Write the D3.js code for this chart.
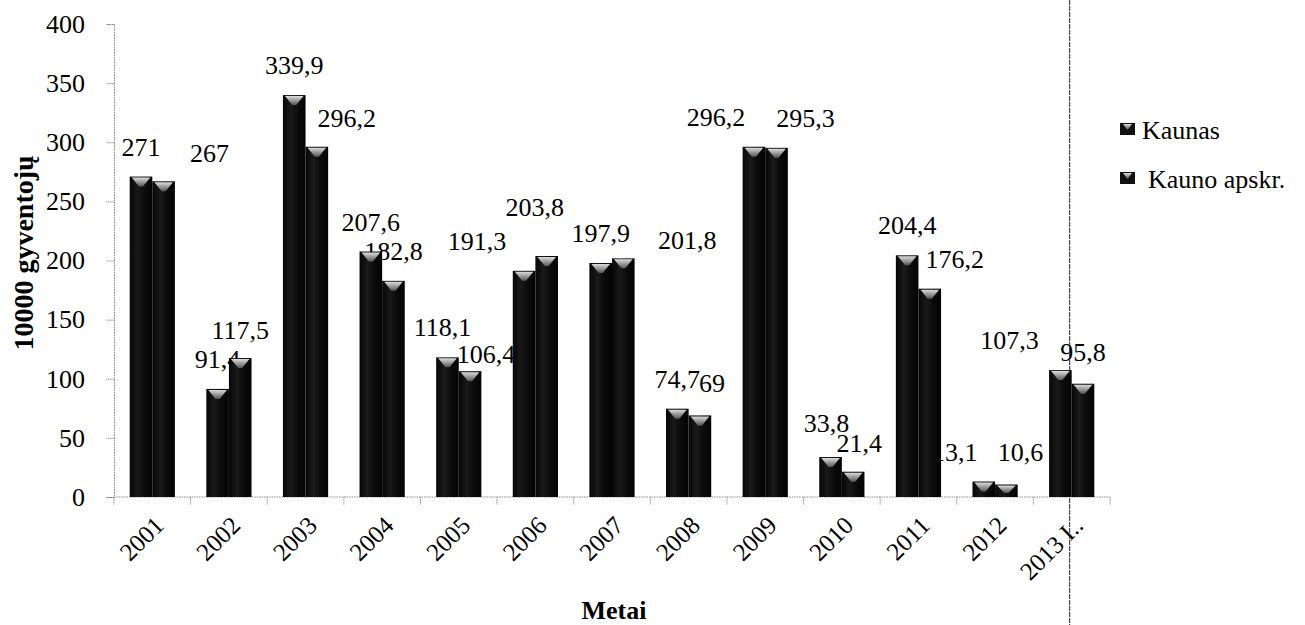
<!DOCTYPE html>
<html>
<head>
<meta charset="utf-8">
<script src="https://cdn.jsdelivr.net/npm/d3@7"></script>
<style>
  html, body { margin: 0; padding: 0; background: #fff; }
  svg { display: block; }
  svg text { font-family: "Liberation Serif", "DejaVu Serif", serif !important; fill: #000; }
</style>
</head>
<body>
<svg id="chart" width="1305" height="625"></svg>
<script>
// ---- data ----
const years = ["2001", "2002", "2003", "2004", "2005", "2006", "2007", "2008", "2009", "2010", "2011", "2012", "2013 I.."];
const seriesNames = ["Kaunas", "Kauno apskr."];
const kaunas = [271, 91.4, 339.9, 207.6, 118.1, 191.3, 197.9, 74.7, 296.2, 33.8, 204.4, 13.1, 107.3];
const kaunoApskr = [267, 117.5, 296.2, 182.8, 106.4, 203.8, 201.8, 69, 295.3, 21.4, 176.2, 10.6, 95.8];
const yTicks = [0, 50, 100, 150, 200, 250, 300, 350, 400];
const yTitle = "10000 gyventojų";
const xTitle = "Metai";

// ---- layout (label nudges reproduce manually moved labels) ----
const nudgeX = [
  [0, 0, 0, 0, -5, -47, 0, 0, -38, -4, 0, -29, -51],
  [46, 0, 30, 0, 16, -12, 64, 12, 29, 6, 25, 14, 0]
];
const nudgeY = [
  [0, 0, 0, 0, 0, 0, 0, 0, 0, -4, 0, 0, 0],
  [2, 2, 1, 0, 13, -19, 12, -2, 0, 1, 0, -2, -2]
];

const svg = d3.select("#chart");
const plotLeft = 114, plotRight = 1110, plotTop = 24, plotBottom = 497;

const x0 = d3.scaleBand().domain(years).range([plotLeft, plotRight]).paddingInner(0.41).paddingOuter(0.205);
const x1 = d3.scaleBand().domain(seriesNames).range([0, x0.bandwidth()]).padding(0);
const y = d3.scaleLinear().domain([0, 400]).range([plotBottom, plotTop]);

const fmt = v => String(v).replace(".", ",");
const FONT = "Liberation Serif, DejaVu Serif, serif";

const defs = svg.append("defs");
const barGrad = defs.append("linearGradient").attr("id", "barGrad").attr("x1", 0).attr("x2", 1).attr("y1", 0).attr("y2", 0);
barGrad.append("stop").attr("offset", "0%").attr("stop-color", "#060606");
barGrad.append("stop").attr("offset", "35%").attr("stop-color", "#1a1a1a");
barGrad.append("stop").attr("offset", "65%").attr("stop-color", "#0b0b0b");
barGrad.append("stop").attr("offset", "100%").attr("stop-color", "#040404");
const capGrad = defs.append("linearGradient").attr("id", "capGrad").attr("x1", 0).attr("x2", 0).attr("y1", 0).attr("y2", 1);
capGrad.append("stop").attr("offset", "0%").attr("stop-color", "#dcdcdc");
capGrad.append("stop").attr("offset", "100%").attr("stop-color", "#555");

// ---- axes ----
const yAxis = d3.axisLeft(y).tickValues(yTicks).tickSize(8).tickPadding(21).tickFormat(d => d);
const gy = svg.append("g").attr("transform", `translate(${plotLeft},0)`).call(yAxis).attr("font-family", FONT);
gy.select(".domain").attr("stroke", "#8a8a8a").attr("stroke-dasharray", "1.5,1");
gy.selectAll(".tick line").attr("stroke", "#8a8a8a").attr("stroke-dasharray", "1.5,1");
gy.selectAll(".tick text").attr("font-size", 26).attr("fill", "#000");

// x axis baseline and boundary ticks
svg.append("line").attr("x1", plotLeft).attr("x2", plotRight).attr("y1", plotBottom).attr("y2", plotBottom)
  .attr("stroke", "#8a8a8a").attr("stroke-dasharray", "1.5,1");
svg.append("g").selectAll("line").data(d3.range(years.length + 1)).join("line")
  .attr("x1", i => plotLeft + i * x0.step()).attr("x2", i => plotLeft + i * x0.step())
  .attr("y1", plotBottom).attr("y2", plotBottom + 8)
  .attr("stroke", "#8a8a8a").attr("stroke-dasharray", "1.5,1");

const xAxis = d3.axisBottom(x0).tickSize(0).tickPadding(0);
const gx = svg.append("g").attr("transform", `translate(0,${plotBottom})`).call(xAxis).attr("font-family", FONT);
gx.select(".domain").remove();
gx.selectAll(".tick text")
  .attr("x", 0).attr("y", 0).attr("dy", 0)
  .attr("text-anchor", "end")
  .attr("transform", "translate(13,30) rotate(-45)")
  .attr("font-size", 25).attr("fill", "#000");

// axis titles
svg.append("text").attr("transform", "translate(33,253) rotate(-90)")
  .attr("text-anchor", "middle").attr("font-size", 28).attr("font-weight", "bold").text(yTitle);
svg.append("text").attr("x", 614).attr("y", 619)
  .attr("text-anchor", "middle").attr("font-size", 26).attr("font-weight", "bold").text(xTitle);

// ---- data labels (drawn beneath bars, as in the original) ----
const series = [kaunas, kaunoApskr];
const labelData = [];
series.forEach((vals, s) => vals.forEach((v, i) => labelData.push({ s, i, v })));
svg.append("g").selectAll("text").data(labelData).join("text")
  .attr("x", d => x0(years[d.i]) + x1(seriesNames[d.s]) + x1.bandwidth() / 2 + nudgeX[d.s][d.i])
  .attr("y", d => y(d.v) - 21 + nudgeY[d.s][d.i])
  .attr("text-anchor", "middle").attr("font-size", 26)
  .text(d => fmt(d.v));

// vertical dashed separator line through last category
const sepX = x0(years[years.length - 1]) + x0.bandwidth() / 2 - 2;
svg.append("line").attr("x1", sepX).attr("x2", sepX).attr("y1", 0).attr("y2", 625)
  .attr("stroke", "#222").attr("stroke-width", 1).attr("stroke-dasharray", "5,1");

// ---- bars ----
const barData = [];
series.forEach((vals, s) => vals.forEach((v, i) => barData.push({ s, i, v })));
const gb = svg.append("g");
gb.selectAll("rect").data(barData).join("rect")
  .attr("x", d => x0(years[d.i]) + x1(seriesNames[d.s]))
  .attr("y", d => y(d.v))
  .attr("width", x1.bandwidth())
  .attr("height", d => y(0) - y(d.v))
  .attr("fill", "url(#barGrad)");
gb.selectAll("path").data(barData).join("path")
  .attr("d", d => {
    const bx = x0(years[d.i]) + x1(seriesNames[d.s]);
    const w = x1.bandwidth();
    const by = y(d.v);
    const h = Math.min(9, (y(0) - y(d.v)) * 0.6);
    return `M${bx + 2},${by + 1} L${bx + w - 2},${by + 1} L${bx + w / 2 + 2},${by + 1 + h} L${bx + w / 2 - 2},${by + 1 + h} Z`;
  })
  .attr("fill", "url(#capGrad)");

// ---- legend ----
const legend = svg.append("g");
const legendY = [123, 172];
const legendTextX = [1142, 1148];
seriesNames.forEach((name, k) => {
  legend.append("rect").attr("x", 1120).attr("y", legendY[k]).attr("width", 15).attr("height", 12).attr("fill", "#111");
  legend.append("path")
    .attr("d", `M1123,${legendY[k] + 1} L1132,${legendY[k] + 1} L1127.5,${legendY[k] + 7} Z`)
    .attr("fill", "url(#capGrad)");
  legend.append("text").attr("x", legendTextX[k]).attr("y", legendY[k] + 16)
    .attr("font-size", 26).text(name);
});
</script>
</body>
</html>
